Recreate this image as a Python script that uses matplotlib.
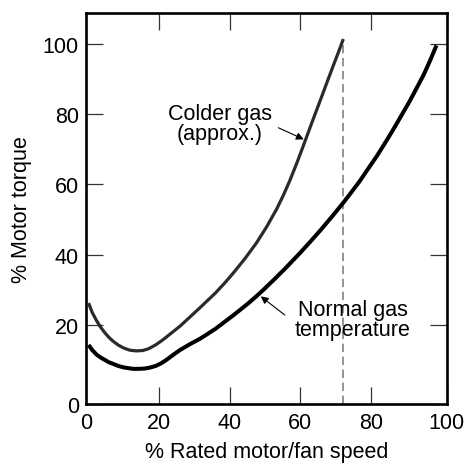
import matplotlib
matplotlib.use("Agg")
import matplotlib.pyplot as plt

plt.rcParams['font.family'] = ['Liberation Sans', 'DejaVu Sans']

# Data
colder_x = [0, 1, 2.2, 3.3, 4.5, 5.7, 7, 8.5, 10, 11.7, 13.5, 15.3, 17, 19, 21, 23.5, 26, 28.7, 31.5, 33.7,
            36, 38.5, 41, 44.3, 47.6, 50.5, 53.3, 55.2, 57, 59, 60.8, 63.2, 65.6, 67.5, 69.3, 70.8, 72.2]
colder_y = [26.3, 23.7, 21.4, 19.6, 18.0, 16.6, 15.4, 14.3, 13.5, 12.9, 12.7, 12.8, 13.3, 14.4, 15.8, 17.8,
            19.8, 22.3, 24.9, 27.0, 29.2, 31.9, 34.8, 38.9, 43.4, 48.0, 53.0, 56.9, 61.0, 66.0, 70.8, 77.3,
            83.7, 88.8, 93.6, 97.5, 101.3]

normal_x = [0, 1, 2.2, 3.3, 4.5, 5.7, 7, 8.5, 10, 11.3, 12.6, 14.3, 16, 17.6, 19.2, 20.6, 22, 24, 26, 28.7,
            31.5, 33.7, 36, 38.5, 41, 43, 45, 47.2, 49.5, 52.8, 56.1, 58, 60, 63, 66, 69.1, 72.2, 74.5,
            76.9, 79.2, 81.6, 83.8, 86, 88.5, 91.1, 93, 95, 96.8, 98.6]
normal_y = [14.4, 13.0, 11.7, 10.9, 10.2, 9.5, 9.0, 8.4, 8.0, 7.8, 7.6, 7.6, 7.7, 8.0, 8.5, 9.2, 10.1, 11.6,
            13.0, 14.6, 16.1, 17.5, 19.0, 20.9, 22.8, 24.4, 26.0, 27.9, 30.0, 33.2, 36.5, 38.5, 40.6, 43.9,
            47.3, 51.0, 54.8, 57.8, 61.0, 64.4, 67.9, 71.4, 75.0, 79.3, 83.8, 87.4, 91.2, 95.2, 99.5]

x_ticks = [20, 40, 60, 80]
y_ticks = [20, 40, 60, 80, 100]
x_label_text = ['0', '20', '40', '60', '80', '100']
y_label_text = ['0', '20', '40', '60', '80', '100']

XLO, XHI = -0.75, 101.5
YLO, YHI = -2.3, 108.7

fig = plt.figure(figsize=(4.67, 4.64), dpi=100)
ax = fig.add_axes([0.184, 0.1278, 0.7725, 0.842])

ax.plot(colder_x, colder_y, color='#2a2a2a', lw=2.3, solid_capstyle='butt', solid_joinstyle='round', zorder=3)
ax.plot(normal_x, normal_y, color='black', lw=2.9, solid_capstyle='butt', solid_joinstyle='round', zorder=3)

ax.plot([colder_x[-1], colder_x[-1]], [YLO, colder_y[-1]], color='#777777', lw=1.1,
        dashes=(5.5, 3.0), zorder=2)

ax.set_xlim(XLO, XHI)
ax.set_ylim(YLO, YHI)

ax.set_xticks([XLO] + x_ticks + [XHI])
ax.set_xticklabels(x_label_text)
ax.set_yticks([YLO] + y_ticks)
ax.set_yticklabels(y_label_text)

ax.tick_params(axis='both', direction='in', length=12, width=0.9, color='#333333',
               labelsize=15.5, top=True, right=True)
ax.tick_params(axis='x', pad=6)
ax.tick_params(axis='y', pad=5)

for s in ax.spines.values():
    s.set_linewidth(1.9)
    s.set_color('black')

ax.set_xlabel('% Rated motor/fan speed', fontsize=15.5, labelpad=6)
ax.set_ylabel('% Motor torque', fontsize=15.5, labelpad=8)

ax.text(37.2, 77.3, 'Colder gas\n(approx.)', fontsize=15.5, ha='center', va='center', linespacing=0.95)
ax.text(74.8, 21.6, 'Normal gas\ntemperature', fontsize=15.5, ha='center', va='center', linespacing=0.95)

ax.annotate('', xy=(61.0, 72.8), xytext=(53.8, 76.1),
            arrowprops=dict(arrowstyle='-|>', color='black', lw=0.8, mutation_scale=11, shrinkA=0, shrinkB=0))
ax.annotate('', xy=(48.8, 28.2), xytext=(55.6, 22.9),
            arrowprops=dict(arrowstyle='-|>', color='black', lw=0.8, mutation_scale=11, shrinkA=0, shrinkB=0))

fig.savefig('out.png', dpi=100)
